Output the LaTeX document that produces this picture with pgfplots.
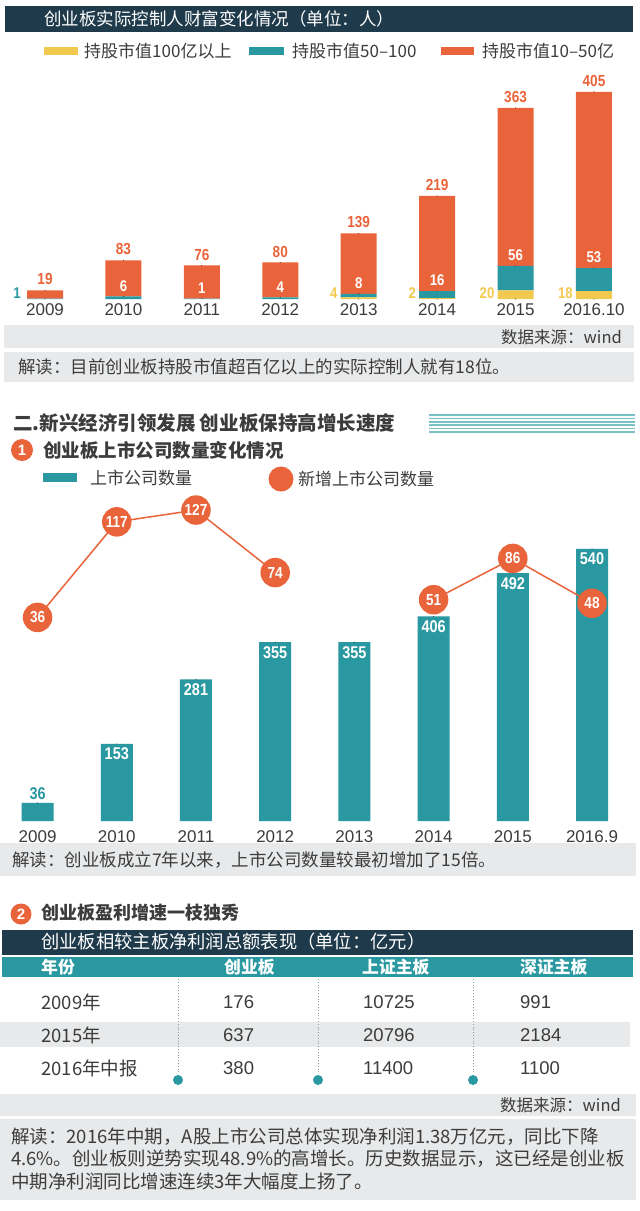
\documentclass[border=0pt]{standalone}
\usepackage{pgfplots}
\pgfplotsset{compat=1.18}
\usepackage{pgfplotstable}
\usepackage{fontspec}
\setmainfont{Liberation Sans}
\newfontfamily\cjk{Noto Sans CJK SC}
\newfontfamily\cond[FakeStretch=0.85]{Liberation Sans}
\definecolor{navy}{HTML}{1F3A4B}
\definecolor{tealc}{HTML}{2A98A1}
\definecolor{orangec}{HTML}{E9643A}
\definecolor{yellowc}{HTML}{F2C94F}
\definecolor{band}{HTML}{E8E9EA}
\definecolor{txt}{HTML}{3C3C3C}
\definecolor{stripe}{HTML}{78C1C5}
\definecolor{dotc}{HTML}{8A9EA3}
\newcommand{\fs}[1]{\fontsize{#1}{#1}\selectfont}
\pgfplotsset{/pgf/number format/assume math mode=true}

% wealth of controlling holders: g = >100e8, t = 50-100e8, o = 10-50e8
\pgfplotstableread{
x g t o
0 0 1 19
1 0 6 83
2 0 1 76
3 0 4 80
4 4 8 139
5 2 16 219
6 20 56 363
7 18 53 405
}\wealth

% number of listed companies
\pgfplotstableread{
x n
0 36
1 153
2 281
3 355
4 355
5 406
6 492
7 540
}\listed

% newly listed companies
\pgfplotstableread{
x m
0 36
1 117
2 127
3 74
4 nan
5 51
6 86
7 48
}\newlisted

\begin{document}
\begin{tikzpicture}
\useasboundingbox (0,0) rectangle (640pt,-1211pt);
\fill[white] (0,0) rectangle (640pt,-1211pt);

% ===== Section 1 =====
\fill[navy] (5pt,-6pt) rectangle (633pt,-32pt);
\node[anchor=west, text=white, inner sep=0pt] at (44pt,-19pt) {\cjk\fs{17.5}创业板实际控制人财富变化情况（单位：人）};
\fill[yellowc] (44pt,-47pt) rectangle (78pt,-55pt);
\node[anchor=west,inner sep=0pt,text=txt] at (84pt,-51pt) {\cjk\fs{17}持股市值100亿以上};
\fill[tealc] (249pt,-47pt) rectangle (284pt,-55pt);
\node[anchor=west,inner sep=0pt,text=txt] at (292pt,-51pt) {\cjk\fs{17}持股市值50–100};
\fill[orangec] (441pt,-47pt) rectangle (474pt,-55pt);
\node[anchor=west,inner sep=0pt,text=txt] at (482pt,-51pt) {\cjk\fs{17}持股市值10–50亿};

\begin{axis}[
  at={(5.8pt,-299pt)}, anchor=south west,
  scale only axis, width=627.4pt, height=219pt,
  xmin=-0.5, xmax=7.5, ymin=0, ymax=503,
  ybar stacked, bar width=36pt,
  axis line style={draw=none}, tick style={draw=none},
  ytick=\empty, xtick={0,...,7},
  xticklabels={2009,2010,2011,2012,2013,2014,2015,2016.10},
  xticklabel style={font=\fs{17}, text=txt, yshift=-1pt},
  clip=false,
]
\addplot[fill=yellowc, draw=none] table[x=x,y=g]{\wealth};
\addplot[fill=tealc, draw=none] table[x=x,y=t]{\wealth};
\addplot[fill=orangec, draw=none] table[x=x,y=o]{\wealth};
\end{axis}

\begin{axis}[
  at={(5.8pt,-299pt)}, anchor=south west,
  scale only axis, width=627.4pt, height=219pt,
  xmin=-0.5, xmax=7.5, ymin=0, ymax=503,
  hide axis, clip=false,
]
\addplot[only marks, mark=*, mark size=0.1pt, mark options={draw=none,fill=none},
  nodes near coords, point meta=explicit,
  every node near coord/.append style={font=\cond\bfseries\fs{16}, text=orangec, anchor=south, inner sep=0pt, yshift=5pt}]
  table[x=x, y expr=\thisrow{g}+\thisrow{t}+\thisrow{o}, meta=o]{\wealth};
\addplot[only marks, mark=*, mark size=0.1pt, mark options={draw=none,fill=none},
  restrict x to domain=3.5:8,
  nodes near coords, point meta=explicit,
  every node near coord/.append style={font=\cond\bfseries\fs{15.5}, text=yellowc, anchor=south east, inner sep=0pt, xshift=-21pt}]
  table[x=x, y expr=0, meta=g]{\wealth};
\addplot[only marks, mark=*, mark size=0.1pt, mark options={draw=none,fill=none},
  restrict x to domain=-1:0.5,
  nodes near coords, point meta=explicit,
  every node near coord/.append style={font=\cond\bfseries\fs{15.5}, text=tealc, anchor=south east, inner sep=0pt, xshift=-24pt}]
  table[x=x, y expr=0, meta=t]{\wealth};
\addplot[only marks, mark=*, mark size=0.1pt, mark options={draw=none,fill=none},
  restrict x to domain=0.5:8,
  nodes near coords, point meta=explicit,
  every node near coord/.append style={font=\cond\bfseries\fs{15.5}, text=white, anchor=south, inner sep=0pt, yshift=5pt}]
  table[x=x, y expr=\thisrow{g}+\thisrow{t}, meta=t]{\wealth};
\end{axis}

\fill[band] (4pt,-325pt) rectangle (634pt,-348pt);
\node[anchor=east,inner sep=0pt,text=txt] at (622pt,-337pt) {\cjk\fs{16.5}数据来源：wind};
\fill[band] (4pt,-352pt) rectangle (634pt,-382pt);
\node[anchor=west,inner sep=0pt,text=txt] at (18pt,-367pt) {\cjk\fs{17.5}解读：目前创业板持股市值超百亿以上的实际控制人就有18位。};

% ===== Section 2 =====
\node[anchor=west,inner sep=0pt,text=txt] at (13pt,-423pt) {\cjk\bfseries\fs{19.5}二.新兴经济引领发展 创业板保持高增长速度};
\foreach \k in {0,...,5} \draw[stripe, line width=1.5pt] (429pt,{-415pt-\k*3.4pt}) -- (635pt,{-415pt-\k*3.4pt});
\fill[orangec] (22pt,-450pt) circle (11pt);
\node[text=white,inner sep=0pt] at (22pt,-450pt) {\bfseries\fs{15}1};
\node[anchor=west,inner sep=0pt,text=txt] at (43pt,-450pt) {\cjk\bfseries\fs{18.5}创业板上市公司数量变化情况};
\fill[tealc] (43pt,-473pt) rectangle (77pt,-482pt);
\node[anchor=west,inner sep=0pt,text=txt] at (90pt,-478pt) {\cjk\fs{17}上市公司数量};
\fill[orangec] (281pt,-479pt) circle (12.5pt);
\node[anchor=west,inner sep=0pt,text=txt] at (298pt,-479pt) {\cjk\fs{17}新增上市公司数量};

\begin{axis}[
  at={(5.9pt,-821pt)}, anchor=south west,
  scale only axis, width=617.8pt, height=321pt,
  xmin=-0.4, xmax=7.4, ymin=0, ymax=637,
  ybar, bar width=32pt,
  axis line style={draw=none}, tick style={draw=none},
  ytick=\empty, xtick={0,...,7},
  xticklabels={2009,2010,2011,2012,2013,2014,2015,2016.9},
  xticklabel style={font=\fs{17}, text=txt, yshift=-2pt},
  clip=false,
]
\addplot[fill=tealc, draw=none] table[x=x,y=n]{\listed};
\end{axis}

\begin{axis}[
  at={(5.9pt,-821pt)}, anchor=south west,
  scale only axis, width=617.8pt, height=321pt,
  xmin=-0.4, xmax=7.4, ymin=0, ymax=637,
  hide axis, clip=false,
]
\addplot[only marks, mark=*, mark size=0.1pt, mark options={draw=none,fill=none},
  restrict x to domain=-1:0.5,
  nodes near coords, point meta=explicit,
  every node near coord/.append style={font=\cond\bfseries\fs{17}, text=tealc, anchor=south, inner sep=0pt, yshift=3pt}]
  table[x=x, y=n, meta=n]{\listed};
\addplot[only marks, mark=*, mark size=0.1pt, mark options={draw=none,fill=none},
  restrict x to domain=0.5:8,
  nodes near coords, point meta=explicit,
  every node near coord/.append style={font=\cond\bfseries\fs{17}, text=white, anchor=north, inner sep=0pt, yshift=-4pt}]
  table[x=x, y=n, meta=n]{\listed};
\end{axis}

\begin{axis}[
  at={(5.9pt,-821pt)}, anchor=south west,
  scale only axis, width=617.8pt, height=321pt,
  xmin=-0.4, xmax=7.4, ymin=-136.5, ymax=135.5,
  hide axis, clip=false, unbounded coords=jump,
]
\addplot[orangec, line width=1.5pt, mark=*, mark size=14pt, mark options={fill=orangec, draw=orangec},
  nodes near coords, point meta=explicit,
  every node near coord/.append style={font=\cond\bfseries\fs{16}, text=white, anchor=center, inner sep=0pt}]
  table[x=x,y=m,meta=m]{\newlisted};
\end{axis}

\fill[band] (0pt,-843pt) rectangle (636pt,-876pt);
\node[anchor=west,inner sep=0pt,text=txt] at (12pt,-860pt) {\cjk\fs{17.5}解读：创业板成立7年以来，上市公司数量较最初增加了15倍。};

% ===== Section 3 =====
\fill[orangec] (21pt,-914pt) circle (10.5pt);
\node[text=white,inner sep=0pt] at (21pt,-914pt) {\bfseries\fs{15}2};
\node[anchor=west,inner sep=0pt,text=txt] at (41pt,-913pt) {\cjk\bfseries\fs{18}创业板盈利增速一枝独秀};
\fill[navy] (2pt,-930pt) rectangle (633pt,-955pt);
\node[anchor=west,inner sep=0pt,text=white] at (41pt,-942pt) {\cjk\fs{18.3}创业板相较主板净利润总额表现（单位：亿元）};
\fill[tealc] (2pt,-957pt) rectangle (633pt,-977pt);
\node[anchor=west,inner sep=0pt,text=white] at (41pt,-967pt) {\cjk\bfseries\fs{16.8}年份};
\node[anchor=west,inner sep=0pt,text=white] at (224pt,-967pt) {\cjk\bfseries\fs{16.8}创业板};
\node[anchor=west,inner sep=0pt,text=white] at (362pt,-967pt) {\cjk\bfseries\fs{16.8}上证主板};
\node[anchor=west,inner sep=0pt,text=white] at (520pt,-967pt) {\cjk\bfseries\fs{16.8}深证主板};
\fill[band] (0pt,-1022pt) rectangle (630pt,-1047pt);
\foreach \xx in {178,318,473} {
  \draw[dotc, line width=0.9pt, dash pattern=on 1pt off 1.8pt] (\xx pt,-979pt) -- (\xx pt,-1074pt);
  \fill[tealc] (\xx pt,-1080pt) circle (5pt);
}
\node[anchor=west,inner sep=0pt,text=txt] at (41pt,-1002pt) {\cjk\fs{18.5}2009年};
\node[anchor=west,inner sep=0pt,text=txt] at (41pt,-1035pt) {\cjk\fs{18.5}2015年};
\node[anchor=west,inner sep=0pt,text=txt] at (41pt,-1068pt) {\cjk\fs{18.5}2016年中报};
\node[anchor=west,inner sep=0pt,text=txt] at (223pt,-1002pt) {\fs{18.5}176};
\node[anchor=west,inner sep=0pt,text=txt] at (223pt,-1035pt) {\fs{18.5}637};
\node[anchor=west,inner sep=0pt,text=txt] at (223pt,-1068pt) {\fs{18.5}380};
\node[anchor=west,inner sep=0pt,text=txt] at (363pt,-1002pt) {\fs{18.5}10725};
\node[anchor=west,inner sep=0pt,text=txt] at (363pt,-1035pt) {\fs{18.5}20796};
\node[anchor=west,inner sep=0pt,text=txt] at (363pt,-1068pt) {\fs{18.5}11400};
\node[anchor=west,inner sep=0pt,text=txt] at (520pt,-1002pt) {\fs{18.5}991};
\node[anchor=west,inner sep=0pt,text=txt] at (520pt,-1035pt) {\fs{18.5}2184};
\node[anchor=west,inner sep=0pt,text=txt] at (520pt,-1068pt) {\fs{18.5}1100};

\fill[band] (0pt,-1094pt) rectangle (636pt,-1116pt);
\node[anchor=east,inner sep=0pt,text=txt] at (621pt,-1105pt) {\cjk\fs{16.5}数据来源：wind};
\fill[band] (0pt,-1119pt) rectangle (636pt,-1200pt);
\node[anchor=west,inner sep=0pt,text=txt] at (11pt,-1137pt) {\cjk\fs{18.5}解读：2016年中期，A股上市公司总体实现净利润1.38万亿元，同比下降};
\node[anchor=west,inner sep=0pt,text=txt] at (11pt,-1159pt) {\cjk\fs{18.5}4.6\%。创业板则逆势实现48.9\%的高增长。历史数据显示，这已经是创业板};
\node[anchor=west,inner sep=0pt,text=txt] at (11pt,-1181pt) {\cjk\fs{18.5}中期净利润同比增速连续3年大幅度上扬了。};
\end{tikzpicture}
\end{document}
